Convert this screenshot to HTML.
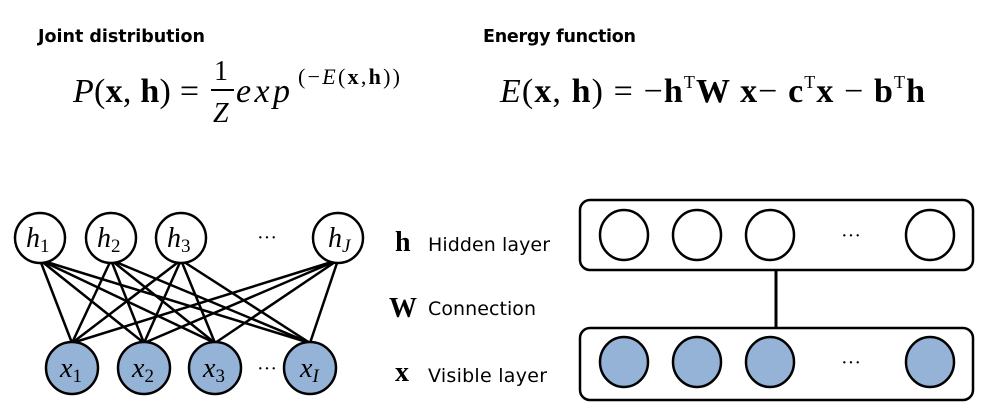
<!DOCTYPE html>
<html><head><meta charset="utf-8"><style>
body{margin:0;background:#fff;width:985px;height:408px;overflow:hidden}
svg{display:block}
.s{font-family:"DejaVu Sans","Liberation Sans",sans-serif}
.m{font-family:"Liberation Serif",serif}
</style></head><body>
<svg width="985" height="408" xmlns="http://www.w3.org/2000/svg">
<text x="38" y="42" class="s" font-size="17.5" font-weight="bold" textLength="167">Joint distribution</text>
<text x="483" y="42" class="s" font-size="17.5" font-weight="bold" textLength="153">Energy function</text>
<g class="m" font-size="34">
<text x="73" y="102" textLength="126"><tspan font-style="italic">P</tspan>(<tspan font-weight="bold">x</tspan>, <tspan font-weight="bold">h</tspan>) =</text>
<text x="214" y="80" font-size="28">1</text>
<line x1="211" y1="90" x2="234" y2="90" stroke="#000" stroke-width="2"/>
<text x="213" y="122" font-size="28" font-style="italic">Z</text>
<text x="236" y="102" font-style="italic" textLength="54">exp</text>
<text x="298" y="84" font-size="22" textLength="102">(−<tspan font-style="italic">E</tspan>(<tspan font-weight="bold">x</tspan>,<tspan font-weight="bold">h</tspan>))</text>
<text x="500" y="102" textLength="425"><tspan font-style="italic">E</tspan>(<tspan font-weight="bold">x</tspan>, <tspan font-weight="bold">h</tspan>) = −<tspan font-weight="bold">h</tspan><tspan font-size="18" dy="-14">T</tspan><tspan font-weight="bold" dy="14">W x</tspan>− <tspan font-weight="bold">c</tspan><tspan font-size="18" dy="-14">T</tspan><tspan font-weight="bold" dy="14">x</tspan> − <tspan font-weight="bold">b</tspan><tspan font-size="18" dy="-14">T</tspan><tspan font-weight="bold" dy="14">h</tspan></text>
</g>
<g stroke="#000" stroke-width="2.5">
<line x1="40" y1="260" x2="72" y2="343"/><line x1="40" y1="260" x2="144" y2="343"/><line x1="40" y1="260" x2="215" y2="343"/><line x1="40" y1="260" x2="310" y2="343"/>
<line x1="111" y1="260" x2="72" y2="343"/><line x1="111" y1="260" x2="144" y2="343"/><line x1="111" y1="260" x2="215" y2="343"/><line x1="111" y1="260" x2="310" y2="343"/>
<line x1="181" y1="260" x2="72" y2="343"/><line x1="181" y1="260" x2="144" y2="343"/><line x1="181" y1="260" x2="215" y2="343"/><line x1="181" y1="260" x2="310" y2="343"/>
<line x1="338" y1="260" x2="72" y2="343"/><line x1="338" y1="260" x2="144" y2="343"/><line x1="338" y1="260" x2="215" y2="343"/><line x1="338" y1="260" x2="310" y2="343"/>
</g>
<g stroke="#000" stroke-width="2.5" fill="#fff">
<circle cx="40" cy="238" r="25"/><circle cx="111" cy="238" r="25"/><circle cx="181" cy="238" r="25"/><circle cx="338" cy="238" r="25"/>
</g>
<g stroke="#000" stroke-width="2.5" fill="#95b3d7">
<circle cx="72" cy="368" r="26"/><circle cx="144" cy="368" r="26"/><circle cx="215" cy="368" r="26"/><circle cx="310" cy="368" r="26"/>
</g>
<g class="m" font-size="28" font-style="italic">
<text x="26" y="247">h<tspan font-size="19" font-style="normal" dy="5">1</tspan></text>
<text x="97" y="247">h<tspan font-size="19" font-style="normal" dy="5">2</tspan></text>
<text x="167" y="247">h<tspan font-size="19" font-style="normal" dy="5">3</tspan></text>
<text x="328" y="247">h<tspan font-size="19" dy="5">J</tspan></text>
<text x="60" y="377">x<tspan font-size="19" font-style="normal" dy="5">1</tspan></text>
<text x="132" y="377">x<tspan font-size="19" font-style="normal" dy="5">2</tspan></text>
<text x="203" y="377">x<tspan font-size="19" font-style="normal" dy="5">3</tspan></text>
<text x="300" y="377">x<tspan font-size="19" dy="5">I</tspan></text>
</g>
<text x="257" y="244" class="m" font-size="20">···</text>
<text x="257" y="375" class="m" font-size="20">···</text>
<text x="395" y="251" class="m" font-size="28" font-weight="bold">h</text>
<text x="389" y="317" class="m" font-size="28" font-weight="bold">W</text>
<text x="395" y="381" class="m" font-size="28" font-weight="bold">x</text>
<text x="428" y="251" class="s" font-size="19" textLength="122">Hidden layer</text>
<text x="428" y="315" class="s" font-size="19" textLength="108">Connection</text>
<text x="428" y="382" class="s" font-size="19" textLength="119">Visible layer</text>
<line x1="776" y1="270" x2="776" y2="328" stroke="#000" stroke-width="3"/>
<rect x="580" y="200" width="393" height="70" rx="10" fill="#fff" stroke="#000" stroke-width="2.5"/>
<rect x="580" y="328" width="393" height="72" rx="10" fill="#fff" stroke="#000" stroke-width="2.5"/>
<g stroke="#000" stroke-width="2.5" fill="#fff">
<ellipse cx="624" cy="235" rx="24" ry="25"/><ellipse cx="697" cy="235" rx="24" ry="25"/><ellipse cx="770" cy="235" rx="24" ry="25"/><ellipse cx="930" cy="235" rx="24" ry="25"/>
</g>
<g stroke="#000" stroke-width="2.5" fill="#95b3d7">
<ellipse cx="624" cy="362" rx="24" ry="25"/><ellipse cx="697" cy="362" rx="24" ry="25"/><ellipse cx="770" cy="362" rx="24" ry="25"/><ellipse cx="930" cy="362" rx="24" ry="25"/>
</g>
<text x="841" y="242" class="m" font-size="20">···</text>
<text x="841" y="369" class="m" font-size="20">···</text>
</svg>
</body></html>
